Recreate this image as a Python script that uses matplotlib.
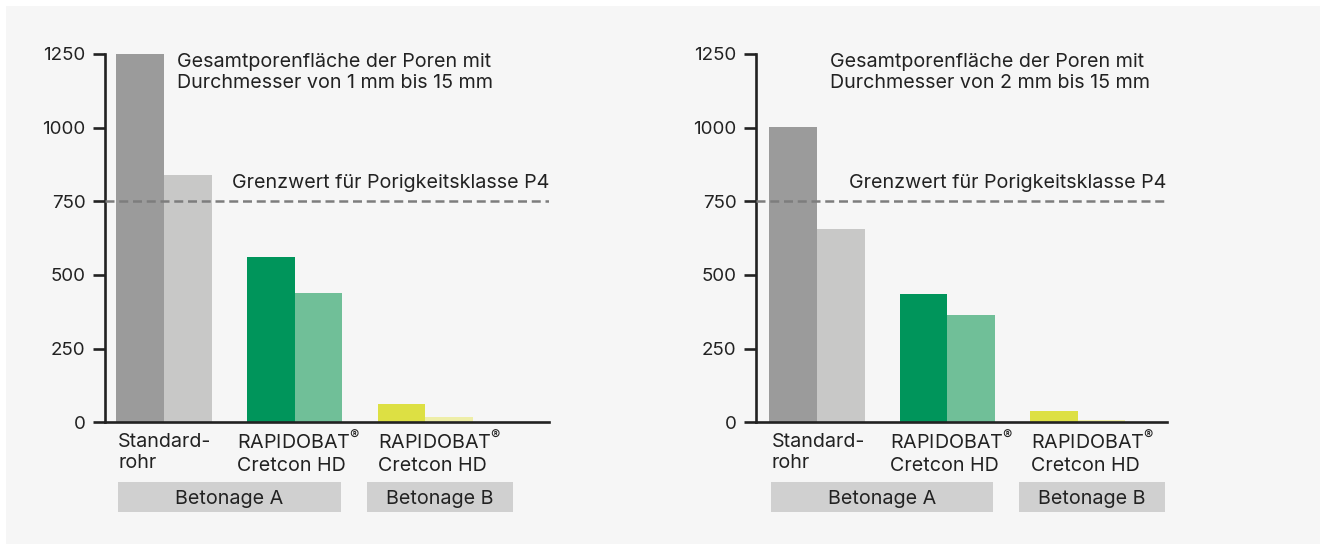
import matplotlib.pyplot as plt
import matplotlib.transforms as mtransforms
from matplotlib.patches import Rectangle

plt.rcParams['font.family'] = ['Inter', 'DejaVu Sans']
plt.rcParams['mathtext.default'] = 'regular'

# data
groups = ['Standard-\nrohr', 'RAPIDOBAT$^{®}$\nCretcon HD', 'RAPIDOBAT$^{®}$\nCretcon HD']
left_first = [1250, 562, 62]
left_second = [838, 439, 18]
right_first = [1003, 436, 37]
right_second = [657, 364, 9]
yticks = [0, 250, 500, 750, 1000, 1250]
limit_p4 = 750
notes = ['Gesamtporenfläche der Poren mit\nDurchmesser von 1 mm bis 15 mm',
         'Gesamtporenfläche der Poren mit\nDurchmesser von 2 mm bis 15 mm']
limit_label = 'Grenzwert für Porigkeitsklasse P4'
casts = ['Betonage A', 'Betonage B']

dark_cols = ['#9b9b9b', '#00955b', '#dde043']
light_cols = ['#c8c8c7', '#70bf98', '#eeeea8']

bg = '#f6f6f6'
fs = 14.2
fig = plt.figure(figsize=(13.2, 5.44), dpi=100, facecolor='white')
fig.patches.append(Rectangle((6 / 1320, 0), 1, 538 / 544, transform=fig.transFigure,
                             facecolor=bg, edgecolor='none', zorder=-10))

ax_l = fig.add_axes([105 / 1320, 121.7 / 544, 444 / 1320, 368.3 / 544])
ax_r = fig.add_axes([756 / 1320, 121.7 / 544, 410.7 / 1320, 368.3 / 544])

w = 0.365
label_off = [-0.35, -0.44, -0.36]
box_span = [(-0.355, 1.354), (1.553, 2.668)]

for ax, first, second, note, xlim in [
        (ax_l, left_first, left_second, notes[0], (-0.451, 2.946)),
        (ax_r, right_first, right_second, notes[1], (-0.468, 2.683))]:
    ax.set_facecolor('none')
    x = list(range(len(groups)))
    ax.bar([i - w / 2 for i in x], first, width=w, color=dark_cols, zorder=2)
    ax.bar([i + w / 2 for i in x], second, width=w, color=light_cols, zorder=2)
    ax.axhline(limit_p4, color='#7d7d7d', lw=1.8, ls=(0, (3.6, 1.9)), zorder=3)

    ax.set_xlim(*xlim)
    ax.set_ylim(0, 1250)
    ax.set_yticks(yticks)
    ax.set_xticks([])
    for s in ['top', 'right']:
        ax.spines[s].set_visible(False)
    for s in ['left', 'bottom']:
        ax.spines[s].set_linewidth(1.9)
        ax.spines[s].set_color('#222222')
        ax.spines[s].set_capstyle('projecting')
    ax.tick_params(axis='y', length=8.5, width=1.9, color='#222222',
                   labelsize=13.5, labelcolor='#222222', pad=5.5)

    trans = mtransforms.blended_transform_factory(ax.transData, ax.transAxes)
    for i, g in enumerate(groups):
        ax.text(i + label_off[i], -0.082, g, transform=trans, ha='left', va='center',
                fontsize=fs, color='#222222', linespacing=1.25)
    for (x0, x1), name in zip(box_span, casts):
        ax.add_patch(Rectangle((x0, -0.243), x1 - x0, 0.082, transform=trans,
                               facecolor='#d0d0d0', edgecolor='none', clip_on=False))
        ax.text((x0 + x1) / 2, -0.207, name, transform=trans, ha='center', va='center',
                fontsize=fs, color='#222222')

    ax.text(0.1, 0.95, note, transform=trans, ha='left', va='center',
            fontsize=fs, color='#222222', linespacing=1.25)
    ax.text(1.0, 0.65, limit_label, transform=ax.transAxes, ha='right', va='center',
            fontsize=fs, color='#222222')

fig.savefig('out.png', dpi=100, facecolor='white')
